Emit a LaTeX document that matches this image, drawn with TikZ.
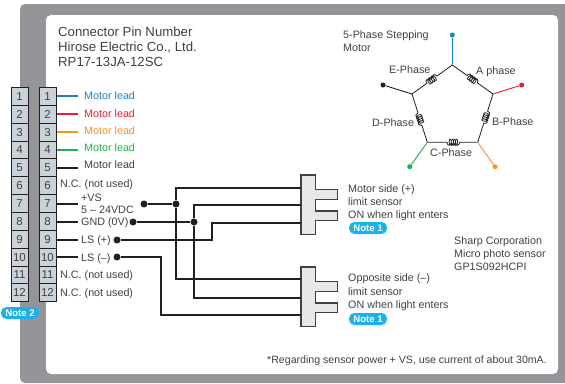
\documentclass[tikz,border=0pt]{standalone}
\usepackage{fontspec}
\setmainfont{Liberation Sans}
\usetikzlibrary{decorations.pathmorphing,calc}
\definecolor{framegray}{HTML}{939598}
\definecolor{cellfill}{HTML}{C9D3D9}
\definecolor{inkline}{HTML}{231F20}
\definecolor{txt}{HTML}{414042}
\definecolor{noteblue}{HTML}{19B0EC}
\definecolor{lblue}{HTML}{1B80C4}
\definecolor{lred}{HTML}{ED1C2E}
\definecolor{lorange}{HTML}{F7941D}
\definecolor{lgreen}{HTML}{22B14C}
\definecolor{sensorfill}{HTML}{E6E7E8}
\tikzset{
  x=1pt,y=-1pt,
  lbl/.style={anchor=mid west,inner sep=0pt,yshift=-1pt,text=txt,font=\fontsize{10.75}{12}\selectfont},
  big/.style={anchor=mid west,inner sep=0pt,yshift=-1.3pt,text=txt,font=\fontsize{13.2}{15}\selectfont},
  cell/.style={draw=inkline,line width=1pt,fill=cellfill,minimum width=17pt,minimum height=17.85pt,inner sep=0pt,text=txt,font=\fontsize{11.5}{12}\selectfont},
  wire/.style={draw=inkline,line width=1.9pt},
  dot/.style={circle,fill=inkline,inner sep=0pt,minimum size=7pt},
  mdot/.style={circle,inner sep=0pt,minimum size=5pt},
  lead/.style={line width=1.9pt},
  note/.style={fill=noteblue,rounded corners=5.5pt,minimum width=38pt,minimum height=12pt,inner sep=0pt,text=white,font=\fontsize{9.6}{10}\bfseries\selectfont},
  sensor/.style={draw=txt,line width=1.1pt,fill=sensorfill},
  phase/.style={line width=0.8pt,draw=inkline},
  coilline/.style={phase,decorate,decoration={coil,aspect=0.55,segment length=2.1pt,amplitude=3pt,pre length=18pt,post length=18pt}}
}
\begin{document}
\begin{tikzpicture}
\useasboundingbox (0,0) rectangle (565,383);
\fill[framegray,rounded corners=5pt] (20,4) -- (570,4) -- (570,383) -- (20,383) -- cycle;
\fill[white,rounded corners=5pt] (46,15) rectangle (558,374);
% pins
\foreach \i in {1,...,12}{
  \node[cell] (l\i) at (19.5,{87.5+17.85*(\i-0.5)}) {\i};
  \node[cell] (r\i) at (47.5,{87.5+17.85*(\i-0.5)}) {\i};
}
\node[note] (n2) at (20,313) {Note 2};
% heading
\node[big] (h1) at (58,33) {Connector Pin Number};
\node[big] (h2) at (58,48) {Hirose Electric Co., Ltd.};
\node[big] (h3) at (58,63) {RP17-13JA-12SC};
% motor leads
\node[lbl,text=lblue] (t1) at (84,96) {Motor lead};
\node[lbl,text=lred] (t2) at (84,113.5) {Motor lead};
\node[lbl,text=lorange] (t3) at (84,130.5) {Motor lead};
\node[lbl,text=lgreen] (t4) at (84,147.5) {Motor lead};
\node[lbl] (t5) at (84,164.5) {Motor lead};
\foreach \i/\y/\c in {1/96/lblue,2/114/lred,3/132/lorange,4/150/lgreen,5/168/inkline}{
  \coordinate (e\i) at (78,\y);
  \draw[lead,\c] (r\i.east |- e\i) -- (e\i);
}
% pin labels
\node[lbl] (t6) at (60,184) {N.C. (not used)};
\node[lbl] (vs1) at (81,198) {+VS};
\node[lbl] (vs2) at (81,209.5) {5 – 24VDC};
\node[lbl] (gnd) at (81,222) {GND (0V)};
\node[lbl] (lsp) at (81,240) {LS (+)};
\node[lbl] (lsm) at (81,258) {LS (–)};
\node[lbl] (t11) at (60,275) {N.C. (not used)};
\node[lbl] (t12) at (60,293) {N.C. (not used)};
\foreach \i/\y in {7/204,8/222,9/240,10/257}{
  \coordinate (e\i) at (77.5,\y);
  \draw[wire] (r\i.east |- e\i) -- (e\i);
}
% sensors
\draw[sensor] (301,175) -- (315.5,175) -- (315.5,189.7) -- (337.5,189.7) -- (337.5,199.7) -- (315.5,199.7) -- (315.5,211) -- (337.5,211) -- (337.5,220.7) -- (315.5,220.7) -- (315.5,234.7) -- (301,234.7) -- cycle;
\draw[sensor] (301,267) -- (315.5,267) -- (315.5,281.7) -- (337.5,281.7) -- (337.5,291.7) -- (315.5,291.7) -- (315.5,303) -- (337.5,303) -- (337.5,312.7) -- (315.5,312.7) -- (315.5,326.7) -- (301,326.7) -- cycle;
\coordinate (s1a) at (301,188);
\coordinate (s1b) at (301,205);
\coordinate (s1c) at (301,223);
\coordinate (s2a) at (301,279);
\coordinate (s2b) at (301,298);
\coordinate (s2c) at (301,315);
% wiring
\node[dot] (d7) at (144,204) {};
\node[dot] (j7) at (176,204) {};
\node[dot] (d8) at (133,222) {};
\node[dot] (j8) at (194,222) {};
\node[dot] (d9) at (117,240) {};
\node[dot] (d10) at (117,257) {};
\draw[wire] (d7) -- (j7);
\draw[wire] (d8) -- (j8);
\draw[wire] (j7) |- (s1a);
\draw[wire] (j7) |- (s2a);
\draw[wire] (j8) |- (s1b);
\draw[wire] (j8) |- (s2b);
\draw[wire] (d9) -- (212,240) |- (s1c);
\draw[wire] (d10) -- (161,257) |- (s2c);
% sensor texts
\node[lbl] (m1) at (348,189) {Motor side (+)};
\node[lbl] (m2) at (348,202) {limit sensor};
\node[lbl] (m3) at (348,215) {ON when light enters};
\node[note] (n1a) at (368,228) {Note 1};
\node[lbl] (o1) at (348,278) {Opposite side (–)};
\node[lbl] (o2) at (348,291.5) {limit sensor};
\node[lbl] (o3) at (348,305) {ON when light enters};
\node[note] (n1b) at (368,319) {Note 1};
\node[lbl] (sh1) at (454,241) {Sharp Corporation};
\node[lbl] (sh2) at (454,254) {Micro photo sensor};
\node[lbl] (sh3) at (454,267) {GP1S092HCPI};
\node[lbl,anchor=mid east,font=\fontsize{10.6}{12}\selectfont] (foot) at (547,360) {*Regarding sensor power + VS, use current of about 30mA.};
% motor
\node[lbl] (mt1) at (343,35) {5-Phase Stepping};
\node[lbl] (mt2) at (343,48) {Motor};
\coordinate (pa) at (452.3,65);
\coordinate (pb) at (493,94);
\coordinate (pc) at (477.7,142.3);
\coordinate (pd) at (427.3,142.3);
\coordinate (pe) at (412,94);
\draw[coilline] (pa) -- (pb);
\draw[coilline] (pb) -- (pc);
\draw[coilline] (pc) -- (pd);
\draw[coilline] (pd) -- (pe);
\draw[coilline] (pe) -- (pa);
\node[mdot,fill=lblue] (qa) at (452.3,35) {};
\node[mdot,fill=lred] (qb) at (521.7,85) {};
\node[mdot,fill=lorange] (qc) at (495,166.7) {};
\node[mdot,fill=lgreen] (qd) at (409.7,166.7) {};
\node[mdot,fill=inkline] (qe) at (383,85) {};
\draw[lblue,line width=1pt] (pa) -- (qa);
\draw[lred,line width=0.9pt] (pb) -- (qb);
\draw[lorange,line width=0.9pt] (pc) -- (qc);
\draw[lgreen,line width=0.9pt] (pd) -- (qd);
\draw[inkline,line width=0.9pt] (pe) -- (qe);
\node[lbl] (pe1) at (389,70) {E-Phase};
\node[lbl] (pa1) at (476,71) {A phase};
\node[lbl] (pb1) at (492,122) {B-Phase};
\node[lbl] (pc1) at (430,153) {C-Phase};
\node[lbl] (pd1) at (372,123) {D-Phase};
\end{tikzpicture}
\end{document}
